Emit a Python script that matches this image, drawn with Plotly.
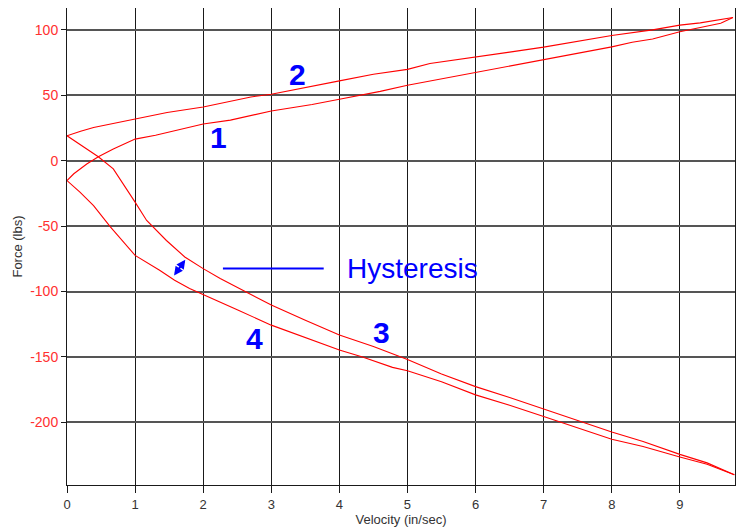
import plotly.graph_objects as go

# Curve 1: lower branch of upper loop (increasing velocity)
c1_x = [0, 0.1, 0.29, 0.46, 0.68, 1.0, 1.3, 1.6, 2.0, 2.4, 2.7, 3.0, 3.3, 3.6, 4.0, 4.3, 4.6, 5.0, 5.3, 5.6, 6.0, 6.4, 7.0, 7.5, 8.0, 8.3, 8.6, 9.0, 9.3, 9.6, 9.78]
c1_y = [-15.2, -10, -2.5, 3, 9, 16.5, 19.5, 23, 28, 31, 34.3, 38, 40.5, 43, 47, 50, 53, 57.6, 60.5, 63.5, 67.3, 71, 77, 82, 87, 90.5, 93, 98.5, 101.5, 105, 109.5]

# Curve 2: upper branch of upper loop (decreasing velocity)
c2_x = [9.78, 9.5, 9.3, 9.0, 8.6, 8.0, 7.5, 7.0, 6.5, 6.0, 5.6, 5.33, 5.0, 4.5, 4.0, 3.5, 3.0, 2.7, 2.3, 2.0, 1.47, 1.0, 0.78, 0.39, 0.2, 0]
c2_y = [109.5, 107, 105.3, 103.6, 100, 95.7, 91, 86.8, 83, 79.2, 76, 74.3, 69.8, 66, 61, 55.8, 50.8, 48.7, 44, 41, 36.8, 31.7, 29.2, 25.4, 22.5, 19]

# Curve 3: upper branch of lower loop (increasing velocity)
c3_x = [0, 0.2, 0.46, 0.68, 0.83, 1.0, 1.17, 1.46, 1.73, 2.0, 2.25, 2.5, 3.0, 3.5, 4.0, 4.5, 5.0, 5.5, 6.0, 6.5, 7.0, 7.5, 8.0, 8.46, 9.0, 9.4, 9.8]
c3_y = [19, 12, 3, -6.3, -17.8, -31.7, -45.7, -61, -73.6, -82.5, -90, -97, -110.4, -122, -133.3, -142, -152, -163, -172.7, -181, -190, -198.5, -207.4, -214.6, -224.5, -231, -240]

# Curve 4: lower branch of lower loop (decreasing velocity)
c4_x = [9.8, 9.4, 9.0, 8.46, 8.0, 7.5, 7.0, 6.5, 6.0, 5.5, 5.0, 4.78, 4.34, 4.0, 3.5, 3.0, 2.5, 2.0, 1.8, 1.58, 1.36, 1.0, 0.64, 0.39, 0.19, 0]
c4_y = [-240, -232, -226.5, -218.5, -213, -204, -195.6, -187, -179, -169, -160.5, -158, -150, -144.7, -135, -125.7, -114, -102.8, -97.7, -91.4, -83.8, -72.4, -50.8, -34.3, -24, -15.2]

x_ticks = [0, 1, 2, 3, 4, 5, 6, 7, 8, 9]
y_ticks = [-200, -150, -100, -50, 0, 50, 100]

curve_labels = ["1", "2", "3", "4"]
label_x = [2.23, 3.38, 4.62, 2.75]
label_y = [17.5, 66, -131.6, -136.1]

FONT = "Liberation Sans, Arial, sans-serif"
BLUE = "#0000ff"
RED = "#ff0000"

fig = go.Figure()
for xs, ys in [(c1_x, c1_y), (c2_x, c2_y), (c3_x, c3_y), (c4_x, c4_y)]:
    fig.add_trace(go.Scatter(x=xs, y=ys, mode="lines",
                             line=dict(color=RED, width=1.1), showlegend=False,
                             hoverinfo="skip"))

for t, lx, ly in zip(curve_labels, label_x, label_y):
    fig.add_annotation(x=lx, y=ly, text="<b>%s</b>" % t, showarrow=False,
                       font=dict(family=FONT, size=30, color=BLUE))

# Hysteresis callout
fig.add_shape(type="line", x0=2.29, x1=3.77, y0=-82.5, y1=-82.5,
              line=dict(color=BLUE, width=2))
fig.add_annotation(x=4.08, y=-82.5, text="Hysteresis", showarrow=False,
                   xanchor="left", yanchor="middle",
                   font=dict(family=FONT, size=28, color=BLUE))
fig.add_annotation(x=1.737, y=-75.7, ax=1.557, ay=-89, axref="x", ayref="y",
                   xref="x", yref="y", text="", showarrow=True,
                   arrowside="end+start", arrowhead=2, arrowsize=0.9,
                   arrowwidth=2, arrowcolor=BLUE)

# The page body has an 8px default margin, so the figure is sized to fit the window.
fig.update_layout(
    width=736, height=523,
    margin=dict(l=59, r=9, t=0, b=46, autoexpand=False),
    paper_bgcolor="white", plot_bgcolor="white",
    font=dict(family=FONT),
    xaxis=dict(range=[0, 9.81], tickvals=x_ticks, ticktext=[str(v) for v in x_ticks],
               showgrid=True, gridcolor="#1a1a1a", gridwidth=1,
               showline=True, linecolor="#1a1a1a", linewidth=1, mirror=True,
               ticks="outside", ticklen=7, tickcolor="#1a1a1a",
               tickfont=dict(family=FONT, size=13, color="#333333"),
               zeroline=False, automargin=False,
               title=dict(text="Velocity (in/sec)", standoff=2,
                          font=dict(family=FONT, size=13, color="#333333"))),
    yaxis=dict(range=[-247.9, 116.7], tickvals=y_ticks, ticktext=[str(v) for v in y_ticks],
               showgrid=True, gridcolor="#555555", gridwidth=2,
               showline=True, linecolor="#1a1a1a", linewidth=1, mirror=True,
               ticks="outside", ticklen=5, tickcolor="#1a1a1a",
               tickfont=dict(family=FONT, size=14, color="#ff3030"),
               zeroline=False, automargin=False,
               title=dict(text="Force (lbs)", standoff=4,
                          font=dict(family=FONT, size=13, color="#333333"))),
)

fig.write_html("out.html")
